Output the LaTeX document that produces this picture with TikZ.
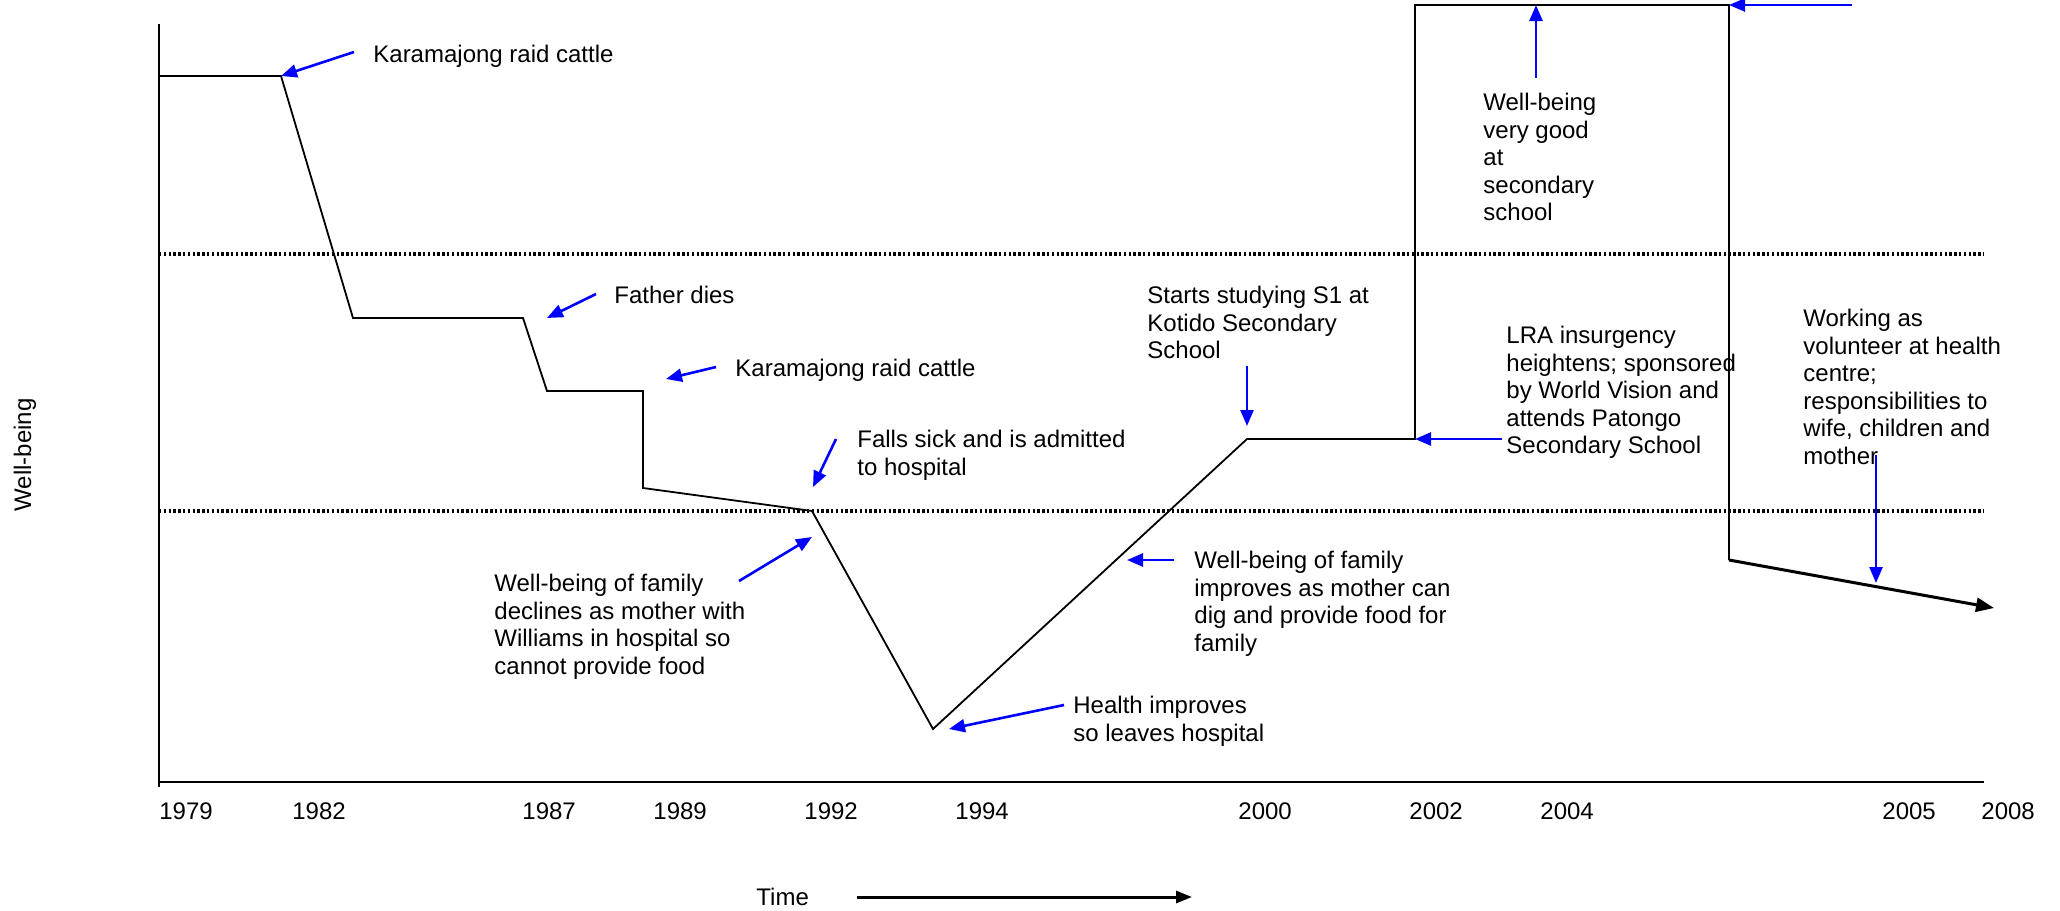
\documentclass[tikz,border=0pt]{standalone}
\usepackage{fontspec}
\setmainfont{Liberation Sans}
\usetikzlibrary{arrows.meta}
\begin{document}
\begin{tikzpicture}[x=0.5pt,y=-0.5pt,
  lbl/.style={font=\fontsize{12}{13.75}\selectfont, inner sep=0pt, anchor=north west, align=left, execute at begin node={\rule{0pt}{9pt}}},
  yr/.style={font=\fontsize{12}{13.65}\selectfont, inner sep=0pt, anchor=west},
  ann/.style={draw={rgb,255:red,0;green,0;blue,255}, line width=1.3pt, -{Triangle[length=8pt,width=6.5pt]}},
  curve/.style={line width=0.9pt, line join=miter},
  axis/.style={line width=1.1pt},
  dots/.style={line width=1.8pt, dash pattern=on 1.2pt off 1.2pt}]
\useasboundingbox (0,0) rectangle (2060,910);
% axes
\coordinate (ytop) at (159,24);
\coordinate (ybot) at (159,787);
\coordinate (xo) at (159,782);
\coordinate (xend) at (1984,782);
\draw[axis] (ytop) -- (ybot);
\draw[axis] (xo) -- (xend);
% dotted bands
\coordinate (d1a) at (159,254); \coordinate (d1b) at (1984,254);
\coordinate (d2a) at (159,511); \coordinate (d2b) at (1984,511);
\draw[dots] (d1a) -- (d1b);
\draw[dots] (d2a) -- (d2b);
% curve points
\coordinate (p0) at (159,76);
\coordinate (p1) at (281,76);
\coordinate (p2) at (353,318);
\coordinate (p3) at (523,318);
\coordinate (p4) at (547,391);
\coordinate (p5) at (643,391);
\coordinate (p6) at (643,488);
\coordinate (p7) at (812,511);
\coordinate (p8) at (933,729);
\coordinate (p9) at (1247,439);
\coordinate (p10) at (1415,439);
\coordinate (p11) at (1415,5);
\coordinate (p12) at (1729,5);
\coordinate (p13) at (1729,560);
\coordinate (p14) at (1994,608);
\draw[curve] (p0) -- (p1) -- (p2) -- (p3) -- (p4) -- (p5) -- (p6) -- (p7) -- (p8) -- (p9) -- (p10) -- (p11) -- (p12) -- (p13);
\draw[line width=1.5pt, -{Triangle[length=9pt,width=7pt]}] (p13) -- (p14);
% labels
\node[lbl] (t1) at (373,44) {Karamajong raid cattle};
\node[lbl] (t2) at (614,285) {Father dies};
\node[lbl] (t3) at (735,358) {Karamajong raid cattle};
\node[lbl] (t4) at (857,430) {Falls sick and is admitted\\to hospital};
\node[lbl] (t5) at (494,574) {Well-being of family\\declines as mother with\\Williams in hospital so\\cannot provide food};
\node[lbl] (t6) at (1073,696) {Health improves\\so leaves hospital};
\node[lbl] (t7) at (1194,551) {Well-being of family\\improves as mother can\\dig and provide food for\\family};
\node[lbl] (t8) at (1147,286) {Starts studying S1 at\\Kotido Secondary\\School};
\node[lbl] (t9) at (1506,326) {LRA insurgency\\heightens; sponsored\\by World Vision and\\attends Patongo\\Secondary School};
\node[lbl] (t10) at (1483,93) {Well-being\\very good\\at\\secondary\\school};
\node[lbl] (t11) at (1803,309) {Working as\\volunteer at health\\centre;\\responsibilities to\\wife, children and\\mother};
% annotation arrows
\coordinate (a1) at (354,52);
\coordinate (a2) at (596,294); \coordinate (b2) at (547,318);
\coordinate (a3) at (716,367); \coordinate (b3) at (666,379);
\coordinate (a4) at (836,439); \coordinate (b4) at (813,487);
\coordinate (a5) at (739,581); \coordinate (b5) at (812,537);
\coordinate (a6) at (1064,705); \coordinate (b6) at (949,729);
\coordinate (a7) at (1174,560); \coordinate (b7) at (1127,560);
\coordinate (a8) at (1247,366); \coordinate (b8) at (1247,426);
\coordinate (a9) at (1502,439);
\coordinate (a10) at (1536,78); \coordinate (b10) at (1536,5);
\coordinate (a11) at (1852,5);
\coordinate (a12) at (1876,455); \coordinate (b12) at (1876,583);
\draw[ann] (a1) -- (p1);
\draw[ann] (a2) -- (b2);
\draw[ann] (a3) -- (b3);
\draw[ann] (a4) -- (b4);
\draw[ann] (a5) -- (b5);
\draw[ann] (a6) -- (b6);
\draw[ann] (a7) -- (b7);
\draw[ann] (a8) -- (b8);
\draw[ann] (a9) -- (p10);
\draw[ann] (a10) -- (b10);
\draw[ann] (a11) -- (p12);
\draw[ann] (a12) -- (b12);
% years
\node[yr] (y1979) at (159,811) {1979};
\node[yr] (y1982) at (292,811) {1982};
\node[yr] (y1987) at (522,811) {1987};
\node[yr] (y1989) at (653,811) {1989};
\node[yr] (y1992) at (804,811) {1992};
\node[yr] (y1994) at (955,811) {1994};
\node[yr] (y2000) at (1238,811) {2000};
\node[yr] (y2002) at (1409,811) {2002};
\node[yr] (y2004) at (1540,811) {2004};
\node[yr] (y2005) at (1882,811) {2005};
\node[yr] (y2008) at (1981,811) {2008};
% axis titles
\node[yr, anchor=center, rotate=90] (wb) at (25,455) {Well-being};
\node[yr] (time) at (756,897) {Time};
\coordinate (ta) at (857,897); \coordinate (tb) at (1192,897);
\draw[line width=1.5pt, -{Triangle[length=8pt,width=6pt]}] (ta) -- (tb);
\end{tikzpicture}
\end{document}
